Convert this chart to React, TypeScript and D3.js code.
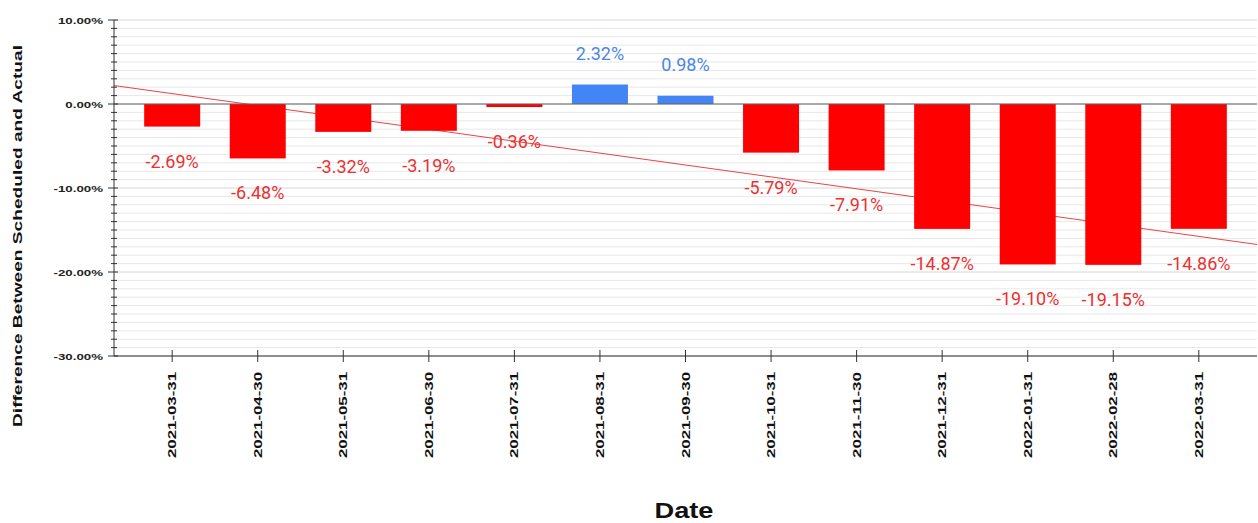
import React from "react";
import * as d3 from "d3";

const categories = [
  "2021-03-31", "2021-04-30", "2021-05-31", "2021-06-30", "2021-07-31", "2021-08-31",
  "2021-09-30", "2021-10-31", "2021-11-30", "2021-12-31", "2022-01-31", "2022-02-28", "2022-03-31",
];
const values = [-2.69, -6.48, -3.32, -3.19, -0.36, 2.32, 0.98, -5.79, -7.91, -14.87, -19.1, -19.15, -14.86];
const yMajorTicks = [10, 0, -10, -20, -30];

const W = 1258;
const H = 523;
const left = 114;
const right = 1257;
const top = 20;
const bottom = 356;

export default function App() {
  const x = d3.scalePoint<string>().domain(categories).range([left, right]).padding(0.68);
  const y = d3.scaleLinear().domain([-30, 10]).range([bottom, top]);
  const step = x.step();
  const x0 = x(categories[0]) as number;
  const minor = d3.range(-30, 10.001, 1);

  // linear regression trend over index
  const idx = values.map((_, i) => i);
  const mx = d3.mean(idx) as number;
  const my = d3.mean(values) as number;
  const sxy = d3.sum(idx.map((i) => (i - mx) * (values[i] - my)));
  const sxx = d3.sum(idx.map((i) => (i - mx) * (i - mx)));
  const slope = sxy / sxx;
  const icpt = my - slope * mx;
  const trendAt = (px: number) => icpt + slope * ((px - x0) / step);

  const barW = 56;
  const fmt = (v: number) => v.toFixed(2) + "%";

  return (
    <svg width={W} height={H} style={{ position: "absolute", left: 0, top: 0, background: "#fff" }}>
      {minor.map((v) => (
        <line key={"g" + v} x1={left} x2={right} y1={y(v)} y2={y(v)}
          stroke={v % 10 === 0 ? "#d6d6d6" : "#e8e8e8"} strokeWidth={1} />
      ))}
      <line x1={left} x2={right} y1={y(trendAt(left))} y2={y(trendAt(right))} stroke="#e84545" strokeWidth={1} />
      {categories.map((c, i) => {
        const v = values[i];
        const cx = x(c) as number;
        return (
          <rect key={"b" + c} x={cx - barW / 2} y={Math.min(y(v), y(0))} width={barW}
            height={Math.abs(y(v) - y(0))} fill={v >= 0 ? "#4285f4" : "#ff0000"} />
        );
      })}
      <line x1={left} x2={right} y1={y(0)} y2={y(0)} stroke="#666" strokeWidth={1} />
      {categories.map((c, i) => {
        const v = values[i];
        const cx = x(c) as number;
        return (
          <text key={"l" + c} x={cx} y={v >= 0 ? y(v) - 25 : y(v) + 41} textAnchor="middle"
            fontFamily="Roboto, sans-serif" fontSize={18} fill={v >= 0 ? "#4a86e8" : "#ec3030"}>
            {fmt(v)}
          </text>
        );
      })}
      <line x1={left} x2={left} y1={top} y2={bottom} stroke="#333" strokeWidth={1} />
      {minor.map((v) => (
        <line key={"t" + v} x1={v % 10 === 0 ? left - 6 : left - 3} x2={v % 10 === 0 ? left + 4 : left + 3}
          y1={y(v)} y2={y(v)} stroke="#333" strokeWidth={1} />
      ))}
      {yMajorTicks.map((v) => (
        <text key={"yl" + v} transform={`translate(${left - 11},${y(v) + 3.5}) scale(1.4,1)`} textAnchor="end"
          fontFamily="Liberation Sans, Arial, sans-serif" fontWeight="bold" fontSize={9.5} fill="#222">
          {v.toFixed(2) + "%"}
        </text>
      ))}
      <line x1={left} x2={right} y1={bottom} y2={bottom} stroke="#333" strokeWidth={1} />
      {categories.map((c) => {
        const cx = x(c) as number;
        return (
          <g key={"x" + c}>
            <line x1={cx} x2={cx} y1={bottom - 6} y2={bottom + 6} stroke="#333" strokeWidth={1} />
            <text transform={`translate(${cx + 4},${372}) rotate(-90)`} textAnchor="end"
              fontFamily="Liberation Sans, Arial, sans-serif" fontWeight="bold" fontSize={11} fill="#111"
              textLength={86} lengthAdjust="spacingAndGlyphs">
              {c}
            </text>
          </g>
        );
      })}
      <text transform={`translate(22,236) rotate(-90)`} textAnchor="middle"
        fontFamily="Liberation Sans, Arial, sans-serif" fontWeight="bold" fontSize={13.5} fill="#111"
        textLength={382} lengthAdjust="spacingAndGlyphs">
        Difference Between Scheduled and Actual
      </text>
      <text x={684} y={518} textAnchor="middle" fontFamily="Liberation Sans, Arial, sans-serif"
        fontWeight="bold" fontSize={22} fill="#111" textLength={59} lengthAdjust="spacingAndGlyphs">
        Date
      </text>
    </svg>
  );
}
